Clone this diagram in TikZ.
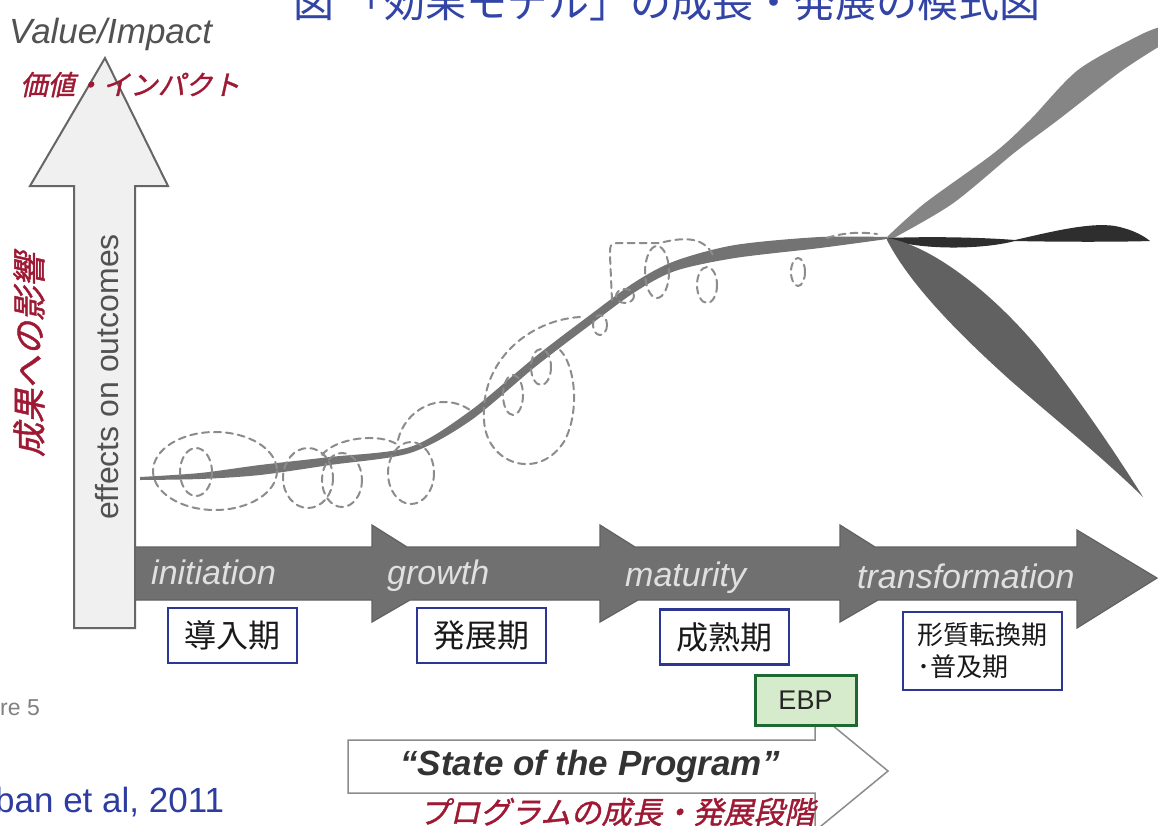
\documentclass[tikz,border=0pt]{standalone}
\usepackage{fontspec}
\setmainfont{Liberation Sans}
\newfontfamily\jp{Noto Sans CJK JP}
\newfontfamily\jpit[FakeSlant=0.22, FakeBold=1.2]{Noto Sans CJK JP}
\definecolor{titleblue}{RGB}{50,68,165}
\definecolor{jred}{RGB}{158,26,52}
\definecolor{boxblue}{RGB}{45,55,145}
\definecolor{ebpgreen}{RGB}{30,105,50}
\definecolor{ebpfill}{RGB}{214,234,204}
\definecolor{bandgray}{RGB}{112,112,112}
\definecolor{citeblue}{RGB}{45,60,160}
\tikzset{
  loopd/.style={draw=black!45, line width=2pt, dash pattern=on 7pt off 5pt, line cap=round},
  jbox/.style={draw=boxblue, line width=2.5pt, fill=white, inner sep=0pt, text=black!90, align=center},
  bandlbl/.style={font=\itshape\fontsize{34pt}{40pt}\selectfont, text=black!12, anchor=base west, inner sep=0pt},
  txt/.style={inner sep=0pt},
}
\begin{document}
\begin{tikzpicture}[x=1pt,y=-1pt]
\useasboundingbox[fill=white] (0,0) rectangle (1158,825);

% title
\node[txt, anchor=base west, text=titleblue, font=\jp\fontsize{41pt}{44pt}\selectfont] (title) at (293,17) {図 「効果モデル」の成長・発展の模式図};

% vertical axis arrow
\draw[fill=black!6, draw=black!60, line width=2pt, line join=miter]
  (74,628) -- (74,186) -- (30,186) -- (105,58) -- (168,186) -- (135,186) -- (135,628) -- cycle;
\node[txt, rotate=90, anchor=base, text=black!68, font=\fontsize{32pt}{36pt}\selectfont] (effects) at (118,377) {effects on outcomes};
\node[txt, anchor=base west, text=black!68, font=\itshape\fontsize{35pt}{40pt}\selectfont] (value) at (9,43) {Value/Impact};
\node[txt, anchor=base west, text=jred, font=\jpit\fontsize{27.5pt}{30pt}\selectfont] (kachi) at (20,95) {価値・インパクト};
\node[txt, rotate=90, text=jred, font=\jpit\fontsize{34pt}{36pt}\selectfont] (seika) at (29,355) {成果への影響};

% horizontal stage band
\draw[fill=bandgray, draw=black!62, line width=1.2pt, line join=miter]
  (135,547) -- (372,547) -- (372,525) -- (407,547) -- (600,547) -- (600,525) -- (635,547)
  -- (840,547) -- (840,525) -- (875,547) -- (1077,547) -- (1077,530) -- (1157,578)
  -- (1077,628) -- (1077,600) -- (878,600) -- (840,622) -- (840,600) -- (638,600)
  -- (600,622) -- (600,600) -- (410,600) -- (372,622) -- (372,600) -- (135,600) -- cycle;
\node[bandlbl] (init) at (151,584) {initiation};
\node[bandlbl] (grow) at (387,584) {growth};
\node[bandlbl] (mat) at (625,586) {maturity};
\node[bandlbl] (trans) at (857,588) {transformation};

% trunk of the curve
\fill[black!55]
  plot[smooth] coordinates {(140,477) (200,473) (260,465) (330,457) (410,447) (470,411) (535,357) (590,315) (635,282) (675,261) (735,245) (820,237) (887,237)}
  -- plot[smooth] coordinates {(887,239) (820,248) (735,258) (675,271) (635,292) (590,325) (535,367) (470,421) (410,453) (330,465) (260,475) (200,479) (140,480)}
  -- cycle;

% branches
\fill[black!48]
  plot[smooth] coordinates {(887,237) (925,203) (994,153) (1030,120) (1078,70) (1138,36) (1160,27)}
  -- plot[smooth] coordinates {(1160,46) (1120,72) (1058,120) (1014,153) (952,204) (890,240)}
  -- cycle;
\fill[black!82]
  (887,238) .. controls (940,236) and (990,238) .. (1015,240)
  .. controls (1050,232) and (1090,222) .. (1115,226)
  .. controls (1135,230) and (1145,237) .. (1150,241)
  .. controls (1120,242) and (1060,242) .. (1015,241)
  .. controls (980,250) and (920,250) .. (887,239) -- cycle;
\fill[black!62]
  (887,238) .. controls (930,245) and (990,290) .. (1040,350)
  .. controls (1080,400) and (1120,460) .. (1143,497)
  .. controls (1100,455) and (1050,415) .. (1010,380)
  .. controls (960,335) and (910,285) .. (887,240) -- cycle;

% dashed loops
\draw[loopd] (215,471) ellipse [x radius=62, y radius=39];
\draw[loopd] (196,472) ellipse [x radius=16, y radius=24];
\draw[loopd] (308,478) ellipse [x radius=25, y radius=30];
\draw[loopd] (342,480) ellipse [x radius=20, y radius=27];
\draw[loopd] (322,455) .. controls (335,438) and (380,432) .. (398,445);
\draw[loopd] (411,473) ellipse [x radius=23, y radius=31];
\draw[loopd] (398,440) .. controls (405,410) and (440,390) .. (470,410);
\draw[loopd] (580,317) .. controls (530,320) and (480,360) .. (484,420)
  .. controls (486,465) and (540,482) .. (565,440) .. controls (580,410) and (575,365) .. (560,350);
\draw[loopd] (513,395) ellipse [x radius=10, y radius=20];
\draw[loopd] (541,367) ellipse [x radius=10, y radius=18];
\draw[loopd] (600,325) ellipse [x radius=7, y radius=10];
\draw[loopd] (612,300) -- (610,256) .. controls (610,243) .. (624,243) -- (660,243)
  .. controls (690,235) and (705,240) .. (713,255);
\draw[loopd] (625,296) ellipse [x radius=9, y radius=7];
\draw[loopd] (657,272) ellipse [x radius=12, y radius=26];
\draw[loopd] (707,285) ellipse [x radius=10, y radius=18];
\draw[loopd] (798,272) ellipse [x radius=7, y radius=14];
\draw[loopd] (827,238) .. controls (845,232) and (862,232) .. (877,234);

% stage boxes
\node[jbox, minimum width=129pt, minimum height=55pt, font=\jp\fontsize{32pt}{36pt}\selectfont] (b1) at (232.5,635.5) {導入期};
\node[jbox, minimum width=129pt, minimum height=55pt, font=\jp\fontsize{32pt}{36pt}\selectfont] (b2) at (481.5,635.5) {発展期};
\node[jbox, minimum width=129pt, minimum height=55pt, font=\jp\fontsize{32pt}{36pt}\selectfont] (b3) at (724.5,637) {成熟期};
\node[jbox, minimum width=159pt, minimum height=78pt, align=left, font=\jp\fontsize{26pt}{32pt}\selectfont] (b4) at (982.5,651) {形質転換期\\･普及期};

% state of the program arrow
\draw[fill=white, draw=black!45, line width=1.5pt, line join=miter]
  (348,740) -- (815,740) -- (815,711) -- (888,771) -- (815,831) -- (815,793) -- (348,793) -- cycle;
\node[txt, text=black!80, font=\bfseries\itshape\fontsize{35pt}{40pt}\selectfont] (state) at (590,766) {“State of the Program”};
\node[txt, text=jred, font=\jpit\fontsize{30.5pt}{34pt}\selectfont] (prog) at (617,812) {プログラムの成長・発展段階};

% EBP box
\node[draw=ebpgreen, line width=3pt, fill=ebpfill, minimum width=101pt, minimum height=50pt, inner sep=0pt, text=black!85, font=\fontsize{27pt}{30pt}\selectfont] (ebp) at (805.5,700) {EBP};

% figure number and citation
\node[txt, anchor=base west, text=black!50, font=\fontsize{23pt}{26pt}\selectfont] (fig) at (0,715) {re 5};
\node[txt, anchor=base west, text=citeblue, font=\fontsize{35pt}{40pt}\selectfont] (cite) at (-5,812) {ban et al, 2011};
\end{tikzpicture}
\end{document}
